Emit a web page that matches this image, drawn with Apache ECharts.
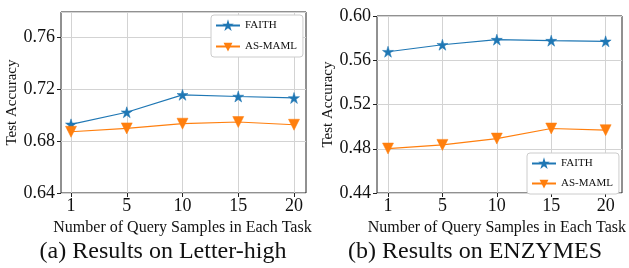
<!DOCTYPE html>
<html>
<head>
    <meta charset="utf-8">
    <title>Results</title>
    <script src="https://cdn.jsdelivr.net/npm/echarts@6/dist/echarts.min.js"></script>
    <style>
        html, body { margin: 0; padding: 0; background: #fff; }
        #main { width: 629px; height: 268px; }
    </style>
</head>
<body>
    <div id="main"></div>
    <script>
        // data
        var queryLabels = ['1', '5', '10', '15', '20'];
        var letterFaith = [0.6928, 0.7021, 0.7155, 0.7142, 0.7131];
        var letterAsMaml = [0.6871, 0.6897, 0.6933, 0.6946, 0.6925];
        var enzymesFaith = [0.5677, 0.5740, 0.5786, 0.5777, 0.5771];
        var enzymesAsMaml = [0.4802, 0.4835, 0.4892, 0.4983, 0.4968];

        var FONT = 'Liberation Serif';
        var BLUE = '#1f77b4';
        var ORANGE = '#ff7f0e';
        var STAR = 'path://M0 -100 L22 -31 L95 -31 L36 12 L59 81 L0 38 L-59 81 L-36 12 L-95 -31 L-22 -31 Z';

        function pts(arr) {
            return arr.map(function (v, i) { return [i, v]; });
        }

        // grids: 0/2 = frame with y axis, 1/3 = data area (inset so points don't touch frame)
        var grids = [
            { left: 61, top: 12, width: 245, height: 181, show: true, borderColor: '#222', borderWidth: 1, backgroundColor: 'transparent' },
            { left: 71, top: 12, width: 223, height: 181 },
            { left: 377, top: 16, width: 245, height: 177, show: true, borderColor: '#222', borderWidth: 1, backgroundColor: 'transparent' },
            { left: 388, top: 16, width: 223, height: 177 }
        ];

        function frameY(idx, min, max) {
            return {
                type: 'value', gridIndex: idx, min: min, max: max, interval: 0.04,
                name: 'Test Accuracy', nameLocation: 'middle', nameGap: 37,
                nameTextStyle: { fontFamily: FONT, fontSize: 15, color: '#111' },
                axisLine: { show: false },
                axisTick: { show: true, length: 4, lineStyle: { color: '#222' } },
                axisLabel: {
                    fontFamily: FONT, fontSize: 18, color: '#111', margin: 6, showMaxLabel: max === 0.6,
                    formatter: function (v) { return v.toFixed(2); }
                },
                splitLine: { show: true, lineStyle: { color: '#d3d3d3', width: 1 } }
            };
        }

        function dataY(idx, min, max) {
            return { type: 'value', gridIndex: idx, min: min, max: max, show: false, splitLine: { show: false } };
        }

        function frameX(idx) {
            return { type: 'value', gridIndex: idx, min: 0, max: 1, show: false, splitLine: { show: false } };
        }

        function dataX(idx) {
            return {
                type: 'value', gridIndex: idx, min: 0, max: 4, interval: 1,
                name: 'Number of Query Samples in Each Task', nameLocation: 'middle', nameGap: 18,
                nameTextStyle: { fontFamily: FONT, fontSize: 16, color: '#111' },
                axisLine: { show: false },
                axisTick: { show: true, length: 4, lineStyle: { color: '#222' } },
                axisLabel: {
                    fontFamily: FONT, fontSize: 18, color: '#111', margin: 4,
                    formatter: function (v) { return queryLabels[v]; }
                },
                splitLine: { show: true, lineStyle: { color: '#d3d3d3', width: 1 } }
            };
        }

        function lineSeries(name, arr, xi, yi, color, symbol, rotate, size) {
            return {
                name: name, type: 'line', xAxisIndex: xi, yAxisIndex: yi,
                data: pts(arr), symbol: symbol, symbolSize: size, symbolRotate: rotate,
                showSymbol: true, animation: false,
                lineStyle: { color: color, width: 1.2 },
                itemStyle: { color: color, borderColor: color, borderWidth: 0.5 }
            };
        }

        function legend(left, top, gap) {
            return {
                orient: 'vertical', left: left, top: top, data: ['FAITH', 'AS-MAML'],
                itemWidth: 24, itemHeight: 7, itemGap: gap, padding: [5, 6, 5, 4],
                borderColor: '#ccc', borderWidth: 1, borderRadius: 3, backgroundColor: '#fff',
                textStyle: { fontFamily: FONT, fontSize: 11, color: '#111' }
            };
        }

        var option = {
            animation: false,
            backgroundColor: '#fff',
            title: [
                { text: '(a) Results on Letter-high', left: 158, top: 235, textAlign: 'center',
                  textStyle: { fontFamily: FONT, fontSize: 24, fontWeight: 'normal', color: '#111' } },
                { text: '(b) Results on ENZYMES', left: 470, top: 235, textAlign: 'center',
                  textStyle: { fontFamily: FONT, fontSize: 24, fontWeight: 'normal', color: '#111' } }
            ],
            legend: [legend(211, 15, 10), legend(527, 153, 9)],
            grid: grids,
            xAxis: [frameX(0), dataX(1), frameX(2), dataX(3)],
            yAxis: [frameY(0, 0.64, 0.7792), dataY(1, 0.64, 0.7792), frameY(2, 0.44, 0.6), dataY(3, 0.44, 0.6)],
            series: [
                lineSeries('FAITH', letterFaith, 1, 1, BLUE, STAR, 0, 11),
                lineSeries('AS-MAML', letterAsMaml, 1, 1, ORANGE, 'triangle', 180, 11),
                lineSeries('FAITH', enzymesFaith, 3, 3, BLUE, STAR, 0, 11),
                lineSeries('AS-MAML', enzymesAsMaml, 3, 3, ORANGE, 'triangle', 180, 11)
            ]
        };

        var myChart = echarts.init(document.getElementById('main'));
        myChart.setOption(option);
    </script>
</body>
</html>
